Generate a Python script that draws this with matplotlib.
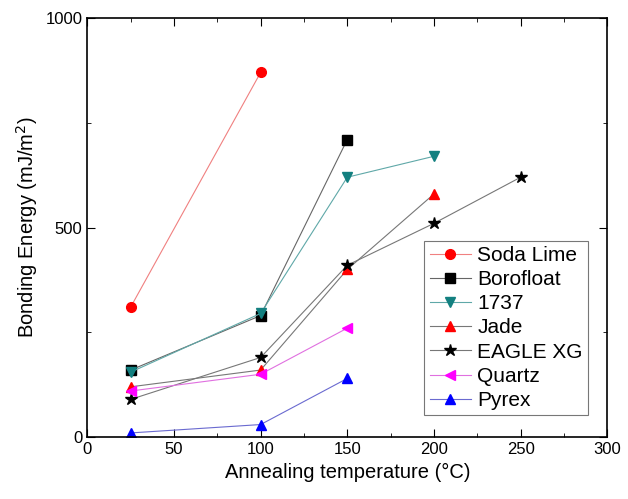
import matplotlib.pyplot as plt
from matplotlib.ticker import MultipleLocator

plt.rcParams['font.family'] = ['Liberation Sans', 'DejaVu Sans']

# -----------------------------
# Данные
# -----------------------------
soda_x = [25, 100]
soda_y = [310, 870]
boro_x = [25, 100, 150]
boro_y = [160, 290, 710]
c1737_x = [25, 100, 150, 200]
c1737_y = [155, 295, 620, 670]
jade_x = [25, 100, 150, 200]
jade_y = [120, 160, 400, 580]
eagle_x = [25, 100, 150, 200, 250]
eagle_y = [90, 190, 410, 510, 620]
quartz_x = [25, 100, 150]
quartz_y = [110, 150, 260]
pyrex_x = [25, 100, 150]
pyrex_y = [10, 30, 140]

series = [
    ("Soda Lime", soda_x, soda_y, "o", "red", "#f08080"),
    ("Borofloat", boro_x, boro_y, "s", "black", "#666666"),
    ("1737", c1737_x, c1737_y, "v", "#138080", "#5fa8a8"),
    ("Jade", jade_x, jade_y, "^", "red", "#777777"),
    ("EAGLE XG", eagle_x, eagle_y, "*", "black", "#777777"),
    ("Quartz", quartz_x, quartz_y, "<", "magenta", "#e070e0"),
    ("Pyrex", pyrex_x, pyrex_y, "^", "blue", "#6a6ad0"),
]

fig = plt.figure(figsize=(6.28, 4.99), dpi=100)
ax = fig.add_axes([0.139, 0.124, 0.828, 0.840])

for name, xs, ys, mk, mcol, lcol in series:
    ms = {"*": 9, "s": 6.5, "o": 7}.get(mk, 7.5)
    ax.plot(xs, ys, color=lcol, lw=0.8, marker=mk, ms=ms,
            markerfacecolor=mcol, markeredgecolor=mcol, label=name)

ax.set_xlim(0, 300)
ax.set_ylim(0, 1000)
ax.xaxis.set_major_locator(MultipleLocator(50))
ax.xaxis.set_minor_locator(MultipleLocator(25))
ax.yaxis.set_major_locator(MultipleLocator(500))
ax.yaxis.set_minor_locator(MultipleLocator(250))
ax.tick_params(which='both', direction='in', top=True, right=True, labelsize=12)
ax.tick_params(which='major', length=6)
ax.tick_params(which='minor', length=3)
for s in ax.spines.values():
    s.set_linewidth(1.2)

ax.set_xlabel("Annealing temperature (°C)", fontsize=14.5)
ax.set_ylabel("Bonding Energy (mJ/m$^2$)", fontsize=14.5)

leg = ax.legend(loc='lower right', bbox_to_anchor=(0.963, 0.052), fontsize=15,
                frameon=True, fancybox=False, edgecolor='#555555',
                handlelength=2.0, handletextpad=0.3, labelspacing=0.25,
                borderpad=0.25, borderaxespad=0)
leg.get_frame().set_linewidth(0.8)

fig.savefig("out.png", dpi=100)
